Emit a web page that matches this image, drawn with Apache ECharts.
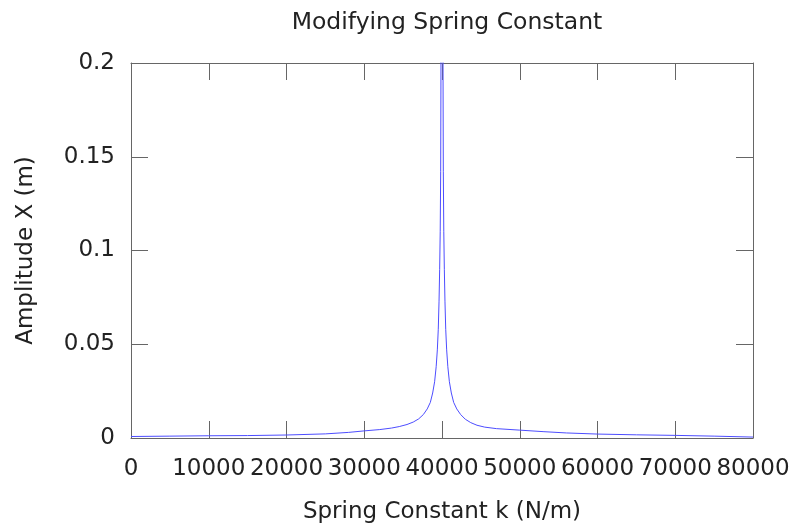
<!DOCTYPE html>
<html>
<head>
<meta charset="UTF-8">
<title>Modifying Spring Constant</title>
<script src="https://cdn.jsdelivr.net/npm/echarts@6/dist/echarts.min.js"></script>
<style type="text/css">
	* {
		margin: 0px;
		padding: 0px;
	}
	body {
		background: #fff;
	}
	#container {
		width: 795px;
		height: 529px;
	}
</style>
</head>
<body>
<div id="container"></div>
<script>
	// spring constant k (N/m)
	var kValues = [0, 5000, 10000, 15000, 20000, 25000, 28000, 30000, 32000, 33500, 34500, 35500, 36300,
		37000, 37600, 38100, 38500, 38800, 39050, 39250, 39400, 39520, 39620, 39700, 39770, 39830,
		39950, 40000, 40050,
		40170, 40230, 40300, 40380, 40480, 40600, 40750, 40950, 41200, 41500, 41900, 42400, 43000,
		43700, 44500, 45500, 47000, 50000, 53000, 56000, 60000, 65000, 70000, 75000, 80000];
	// amplitude X (m)
	var amplitude = [0.0008, 0.001, 0.0012, 0.0013, 0.0016, 0.0022, 0.0030, 0.0038, 0.0045, 0.0053, 0.0061, 0.0072, 0.0085,
		0.0102, 0.0125, 0.0155, 0.019, 0.024, 0.030, 0.038, 0.047, 0.058, 0.073, 0.090, 0.110, 0.142,
		0.32, 0.90, 0.32,
		0.142, 0.110, 0.090, 0.073, 0.058, 0.047, 0.038, 0.030, 0.024, 0.019, 0.0155, 0.0125, 0.0100,
		0.0082, 0.0068, 0.0058, 0.0050, 0.0042, 0.0034, 0.0027, 0.0021, 0.0017, 0.0014, 0.0010, 0.0005];
	var xTicks = [0, 80000, 10000];
	var yTicks = [0, 0.2, 0.05];

	var font = 'DejaVu Sans';
	var textColor = '#222';
	var lineColor = '#666';

	var points = [];
	for (var i = 0; i < kValues.length; i++) {
		points.push([kValues[i], amplitude[i]]);
	}

	function xLabel(v) {
		return String(v);
	}
	function yLabel(v) {
		// gnuplot style: 0, 0.05, 0.1, 0.15, 0.2
		return String(Math.round(v * 100) / 100);
	}

	var myChart = echarts.init(document.getElementById('container'));
	var option = {
		animation: false,
		title: {
			text: 'Modifying Spring Constant',
			left: 442,
			textAlign: 'center',
			top: 6,
			textStyle: {
				fontFamily: font,
				fontWeight: 'normal',
				fontSize: 23.5,
				color: textColor
			}
		},
		grid: {
			left: 131,
			right: 42,
			top: 63,
			bottom: 89
		},
		xAxis: [{
			type: 'value',
			min: xTicks[0],
			max: xTicks[1],
			interval: xTicks[2],
			name: 'Spring Constant k (N/m)',
			nameLocation: 'middle',
			nameGap: 63,
			nameTextStyle: {
				fontFamily: font,
				fontSize: 23,
				color: textColor
			},
			axisLine: { onZero: false, lineStyle: { color: lineColor, width: 1 } },
			axisTick: { inside: true, length: 17, lineStyle: { color: lineColor } },
			axisLabel: {
				fontFamily: font,
				fontSize: 23,
				color: textColor,
				margin: 20,
				hideOverlap: false,
				showMinLabel: true,
				showMaxLabel: true,
				formatter: xLabel
			},
			splitLine: { show: false }
		}, {
			type: 'value',
			position: 'top',
			min: xTicks[0],
			max: xTicks[1],
			interval: xTicks[2],
			axisLine: { onZero: false, lineStyle: { color: lineColor, width: 1 } },
			axisTick: { inside: true, length: 17, lineStyle: { color: lineColor } },
			axisLabel: { show: false },
			splitLine: { show: false }
		}],
		yAxis: [{
			type: 'value',
			min: yTicks[0],
			max: yTicks[1],
			interval: yTicks[2],
			name: 'Amplitude X (m)',
			nameLocation: 'middle',
			nameGap: 93,
			nameTextStyle: {
				fontFamily: font,
				fontSize: 23,
				color: textColor
			},
			axisLine: { show: true, onZero: false, lineStyle: { color: lineColor, width: 1 } },
			axisTick: { show: true, inside: true, length: 17, lineStyle: { color: lineColor } },
			axisLabel: {
				fontFamily: font,
				fontSize: 23,
				color: textColor,
				margin: 16,
				formatter: yLabel
			},
			splitLine: { show: false }
		}, {
			type: 'value',
			position: 'right',
			min: yTicks[0],
			max: yTicks[1],
			interval: yTicks[2],
			axisLine: { show: true, onZero: false, lineStyle: { color: lineColor, width: 1 } },
			axisTick: { show: true, inside: true, length: 17, lineStyle: { color: lineColor } },
			axisLabel: { show: false },
			splitLine: { show: false }
		}],
		series: [{
			type: 'line',
			xAxisIndex: 0,
			yAxisIndex: 0,
			data: points,
			showSymbol: false,
			clip: true,
			lineStyle: { color: '#4d4dff', width: 1 }
		}]
	};
	myChart.setOption(option);
</script>
</body>
</html>
